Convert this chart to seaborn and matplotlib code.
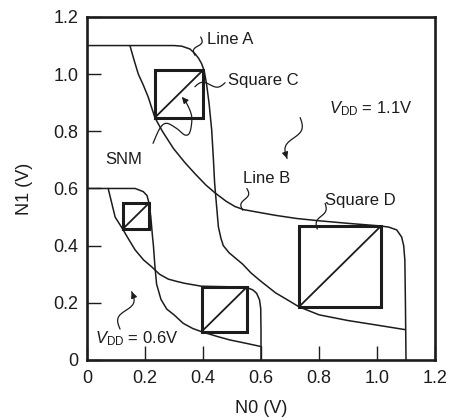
import numpy as np
import pandas as pd
import matplotlib
matplotlib.use("Agg")
import matplotlib.pyplot as plt
import seaborn as sns
from matplotlib.patches import Rectangle

# ---- Butterfly curves, VDD = 1.1 V ----
# Line A: N1 as a function of N0
a11_x = [0.0, 0.15, 0.30, 0.326, 0.355, 0.372, 0.385, 0.395, 0.404, 0.412, 0.421,
         0.430, 0.436, 0.440, 0.445, 0.453, 0.462, 0.470, 0.490, 0.510, 0.537,
         0.565, 0.594, 0.650, 0.700, 0.731, 0.800, 0.900, 1.000, 1.098]
a11_y = [1.10, 1.10, 1.10, 1.098, 1.088, 1.072, 1.055, 1.037, 1.012, 0.967, 0.897,
         0.804, 0.700, 0.620, 0.560, 0.466, 0.425, 0.400, 0.375, 0.358, 0.335,
         0.305, 0.280, 0.235, 0.205, 0.186, 0.158, 0.138, 0.122, 0.106]
# Line B: N0 as a function of N1
b11_x = [0.148, 0.162, 0.177, 0.194, 0.211, 0.234, 0.260, 0.298, 0.338, 0.372,
         0.410, 0.441, 0.480, 0.510, 0.540, 0.600, 0.650, 0.723, 0.800, 0.900,
         1.010, 1.040, 1.068, 1.085, 1.092, 1.096, 1.098, 1.100]
b11_y = [1.10, 1.05, 1.00, 0.962, 0.920, 0.848, 0.800, 0.740, 0.690, 0.652,
         0.612, 0.585, 0.555, 0.537, 0.526, 0.515, 0.506, 0.495, 0.487, 0.478,
         0.469, 0.465, 0.455, 0.430, 0.400, 0.350, 0.200, 0.000]

# ---- Butterfly curves, VDD = 0.6 V ----
a06_x = [0.0, 0.10, 0.166, 0.194, 0.207, 0.214, 0.220, 0.226, 0.229, 0.234, 0.240,
         0.255, 0.275, 0.300, 0.332, 0.365, 0.395, 0.450, 0.493, 0.550, 0.600]
a06_y = [0.60, 0.60, 0.60, 0.589, 0.575, 0.548, 0.500, 0.430, 0.400, 0.330, 0.265,
         0.212, 0.178, 0.158, 0.128, 0.110, 0.099, 0.082, 0.070, 0.058, 0.047]
b06_x = [0.073, 0.085, 0.097, 0.123, 0.145, 0.166, 0.195, 0.223, 0.250, 0.280,
         0.309, 0.338, 0.395, 0.493, 0.550, 0.572, 0.585, 0.595, 0.599, 0.600, 0.600]
b06_y = [0.60, 0.55, 0.50, 0.458, 0.420, 0.385, 0.350, 0.326, 0.300, 0.283,
         0.275, 0.268, 0.258, 0.256, 0.254, 0.245, 0.233, 0.210, 0.180, 0.100, 0.000]

# ---- Noise-margin squares: lower-left corner and side ----
sq_x0 = [0.234, 0.731, 0.123, 0.395]
sq_y0 = [0.848, 0.186, 0.458, 0.099]
sq_side = [0.166, 0.282, 0.091, 0.155]

ticks = [0.0, 0.2, 0.4, 0.6, 0.8, 1.0, 1.2]
tick_labels = ["0", "0.2", "0.4", "0.6", "0.8", "1.0", "1.2"]

sns.set_style("ticks")
plt.rcParams["font.family"] = ["Liberation Sans", "DejaVu Sans"]
plt.rcParams["mathtext.fontset"] = "custom"
plt.rcParams["mathtext.rm"] = "Liberation Sans"
plt.rcParams["mathtext.it"] = "Liberation Sans:italic"

INK = "#1c1c1c"

curves = pd.concat([
    pd.DataFrame({"N0": a11_x, "N1": a11_y, "curve": "A 1.1"}),
    pd.DataFrame({"N0": b11_x, "N1": b11_y, "curve": "B 1.1"}),
    pd.DataFrame({"N0": a06_x, "N1": a06_y, "curve": "A 0.6"}),
    pd.DataFrame({"N0": b06_x, "N1": b06_y, "curve": "B 0.6"}),
], ignore_index=True)

fig = plt.figure(figsize=(4.52, 4.18), dpi=100)
ax = fig.add_axes([0.1925, 0.1388, 0.7699, 0.8206])

sns.lineplot(data=curves, x="N0", y="N1", units="curve", estimator=None,
             sort=False, color=INK, lw=1.1, ax=ax, legend=False)

for x0, y0, s in zip(sq_x0, sq_y0, sq_side):
    ax.add_patch(Rectangle((x0, y0), s, s, fill=False, ec=INK, lw=2.2,
                           joinstyle="miter", zorder=3))
    ax.plot([x0, x0 + s], [y0, y0 + s], color=INK, lw=1.3, zorder=3)

ax.set_xlim(0, 1.2)
ax.set_ylim(0, 1.2)
ax.set_xticks(ticks)
ax.set_xticklabels(tick_labels)
ax.set_yticks(ticks)
ax.set_yticklabels(tick_labels)
ax.tick_params(direction="in", length=10, width=1.0, color=INK,
               labelsize=13, labelcolor=INK)
ax.tick_params(axis="x", pad=7)
ax.tick_params(axis="y", pad=6)
for sp in ax.spines.values():
    sp.set_linewidth(1.9)
    sp.set_color(INK)
    sp.set_visible(True)

ax.set_xlabel("N0 (V)", fontsize=13, color=INK)
ax.set_ylabel("N1 (V)", fontsize=13, color=INK)
ax.xaxis.set_label_coords(0.5, -0.118)
ax.yaxis.set_label_coords(-0.155, 0.5)


def squiggle(p0, p1, amp, waves=1.0, arrow=False):
    t = np.linspace(0, 1, 60)
    p0 = np.asarray(p0, float)
    p1 = np.asarray(p1, float)
    d = p1 - p0
    n = np.array([-d[1], d[0]]) / np.hypot(*d)
    pts = p0 + t[:, None] * d + (amp * np.sin(2 * np.pi * waves * t))[:, None] * n
    ax.plot(pts[:, 0], pts[:, 1], color=INK, lw=0.9, zorder=4)
    if arrow:
        ax.annotate("", xy=pts[-1], xytext=pts[-6],
                    arrowprops=dict(arrowstyle="-|>", color=INK, lw=0.9,
                                    mutation_scale=9, shrinkA=0, shrinkB=0))


def smooth(points, n=12):
    P = np.asarray(points, float)
    P = np.vstack([P[0], P, P[-1]])
    out = []
    t = np.linspace(0, 1, n, endpoint=False)[:, None]
    for i in range(1, len(P) - 2):
        q0, q1, q2, q3 = P[i - 1], P[i], P[i + 1], P[i + 2]
        out.append(0.5 * (2 * q1 + (-q0 + q2) * t
                          + (2 * q0 - 5 * q1 + 4 * q2 - q3) * t ** 2
                          + (-q0 + 3 * q1 - 3 * q2 + q3) * t ** 3))
    out.append(P[-2][None, :])
    return np.vstack(out)


# Text labels
txt = dict(fontsize=12, color=INK, va="baseline", ha="left")
ax.text(0.414, 1.105, "Line A", **txt)
ax.text(0.486, 0.962, "Square C", **txt)
ax.text(0.835, 0.862, r"$V_{\mathrm{DD}}$ = 1.1V", **txt)
ax.text(0.062, 0.685, "SNM", **txt)
ax.text(0.537, 0.618, "Line B", **txt)
ax.text(0.821, 0.542, "Square D", **txt)
ax.text(0.028, 0.058, r"$V_{\mathrm{DD}}$ = 0.6V", **txt)

# Wavy leader lines
squiggle((0.372, 1.066), (0.392, 1.13), 0.010)
squiggle((0.372, 0.956), (0.476, 0.970), 0.012)
squiggle((0.537, 0.524), (0.551, 0.600), 0.010)
squiggle((0.794, 0.458), (0.821, 0.548), 0.010)
squiggle((0.735, 0.848), (0.690, 0.705), 0.018, arrow=True)
squiggle((0.114, 0.108), (0.154, 0.239), 0.018, arrow=True)

snm_path = smooth([(0.2276, 0.758), (0.2517, 0.811), (0.2748, 0.828), (0.309, 0.810),
                   (0.338, 0.787), (0.355, 0.798), (0.361, 0.851), (0.344, 0.897),
                   (0.327, 0.920)])
ax.plot(snm_path[:-3, 0], snm_path[:-3, 1], color=INK, lw=0.9, zorder=4)
ax.annotate("", xy=snm_path[-1], xytext=snm_path[-6],
            arrowprops=dict(arrowstyle="-|>", color=INK, lw=0.9,
                            mutation_scale=9, shrinkA=0, shrinkB=0))

fig.savefig("out.png", dpi=100, facecolor="white")
